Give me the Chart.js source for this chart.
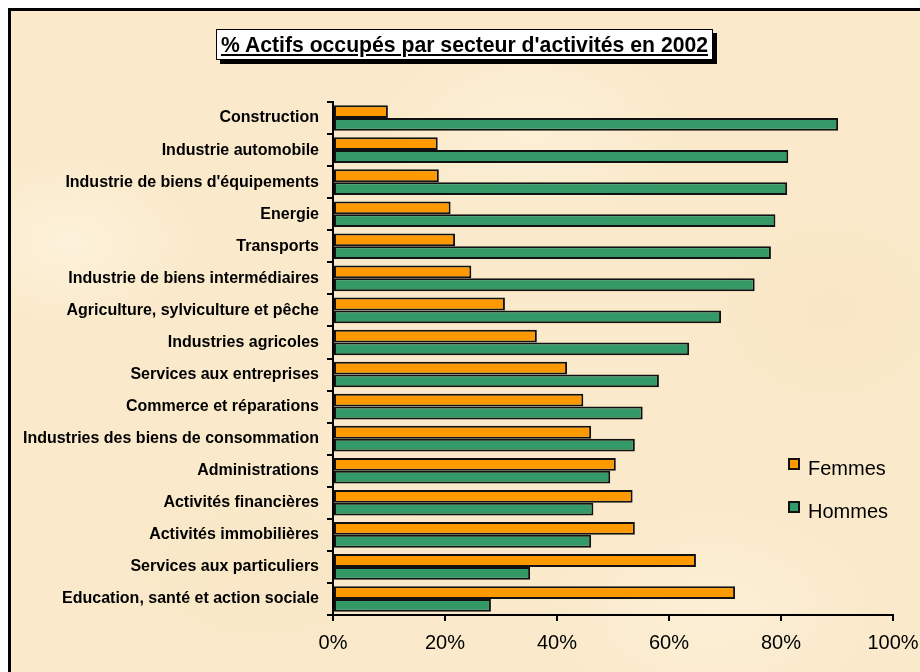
<!DOCTYPE html>
<html>
<head>
<meta charset="utf-8">
<script src="https://cdn.jsdelivr.net/npm/chart.js@4"></script>
<style>
  html, body { margin:0; padding:0; background:#fff; }
  #wrap { position:relative; width:920px; height:672px; overflow:hidden; background:#fff; }
  #paper {
    position:absolute; left:8px; top:8px; width:940px; height:700px;
    border-left:3px solid #000; border-top:3px solid #000;
    background:
      radial-gradient(ellipse 180px 120px at 60px 230px, rgba(255,246,228,0.6), rgba(255,246,228,0) 70%),
      radial-gradient(ellipse 220px 140px at 520px 120px, rgba(255,245,226,0.5), rgba(255,245,226,0) 70%),
      radial-gradient(ellipse 200px 160px at 820px 300px, rgba(246,224,186,0.45), rgba(246,224,186,0) 70%),
      radial-gradient(ellipse 260px 160px at 250px 560px, rgba(247,227,192,0.45), rgba(247,227,192,0) 70%),
      radial-gradient(ellipse 240px 150px at 700px 600px, rgba(255,244,224,0.5), rgba(255,244,224,0) 70%),
      #FAEACB;
  }
  #title {
    position:absolute; left:216px; top:29px; width:497px; height:31px; box-sizing:border-box;
    background:#fff; border:1px solid #000; box-shadow:4px 4px 0 #000;
    font:bold 21.2px "Liberation Sans", Arial, sans-serif; text-decoration:underline;
    text-align:center; line-height:29px; white-space:nowrap; color:#000;
  }
  canvas#c { position:absolute; left:0; top:0; }
  .lg { position:absolute; font:20px "Liberation Sans", Arial, sans-serif; line-height:20px; color:#000; white-space:nowrap; }
  .sq { position:absolute; width:12px; height:12px; box-sizing:border-box; border:2px solid #111; }
</style>
</head>
<body>
<div id="wrap">
  <div id="paper"></div>
  <canvas id="c" width="920" height="672"></canvas>
  <div id="title">% Actifs occupés par secteur d'activités en 2002</div>
  <div id="legend"></div>
</div>
<script>
const categories = [
  "Construction",
  "Industrie automobile",
  "Industrie de biens d'équipements",
  "Energie",
  "Transports",
  "Industrie de biens intermédiaires",
  "Agriculture, sylviculture et pêche",
  "Industries agricoles",
  "Services aux entreprises",
  "Commerce et réparations",
  "Industries des biens de consommation",
  "Administrations",
  "Activités financières",
  "Activités immobilières",
  "Services aux particuliers",
  "Education, santé et action sociale"
];
const femmes = [9.8, 18.7, 18.9, 21.0, 21.8, 24.7, 30.7, 36.4, 41.8, 44.7, 46.1, 50.5, 53.5, 53.9, 64.8, 71.8];
const hommes = [90.2, 81.3, 81.1, 79.0, 78.2, 75.3, 69.3, 63.6, 58.2, 55.3, 53.9, 49.5, 46.5, 46.1, 35.2, 28.2];
const xTickValues = [0, 20, 40, 60, 80, 100];
const xTickLabels = ["0%", "20%", "40%", "60%", "80%", "100%"];
const seriesNames = ["Femmes", "Hommes"];

const FONT = "'Liberation Sans', Arial, sans-serif";

const chart = new Chart(document.getElementById('c'), {
  type: 'bar',
  data: {
    labels: categories,
    datasets: [
      { label: seriesNames[0], data: femmes, backgroundColor: '#FF9900', borderColor: '#111', borderWidth: 2, borderSkipped: false },
      { label: seriesNames[1], data: hommes, backgroundColor: '#339966', borderColor: '#111', borderWidth: 2, borderSkipped: false }
    ]
  },
  options: {
    indexAxis: 'y',
    responsive: false,
    animation: false,
    categoryPercentage: 0.8,
    barPercentage: 1.0,
    layout: { padding: { top: 102, right: 27, bottom: 0, left: 0 } },
    plugins: { legend: { display: false }, title: { display: false }, tooltip: { enabled: false } },
    scales: {
      x: {
        min: 0, max: 100,
        afterBuildTicks: (s) => { s.ticks = xTickValues.map(v => ({ value: v })); },
        afterFit: (s) => { s.height = 57; s.paddingLeft = 0; s.paddingRight = 0; },
        ticks: {
          color: '#000', padding: 10, maxRotation: 0, autoSkip: false,
          font: { family: FONT, size: 20 },
          callback: (v) => xTickLabels[xTickValues.indexOf(v)]
        },
        grid: { drawOnChartArea: false, drawTicks: true, tickLength: 6, color: '#000', lineWidth: 2 },
        border: { display: true, color: '#000', width: 2 }
      },
      y: {
        afterFit: (s) => { s.width = 333; s.paddingTop = 0; s.paddingBottom = 0; },
        ticks: {
          color: '#000', padding: 8, autoSkip: false,
          font: { family: FONT, size: 16, weight: 'bold' }
        },
        grid: { drawOnChartArea: false, drawTicks: true, tickLength: 6, color: '#000', lineWidth: 2, offset: true },
        border: { display: true, color: '#000', width: 2 }
      }
    }
  }
});

// HTML legend built from the chart's datasets
const legend = document.getElementById('legend');
const legendTops = [458, 501];
chart.data.datasets.forEach((ds, i) => {
  const sq = document.createElement('div');
  sq.className = 'sq';
  sq.style.left = '788px';
  sq.style.top = legendTops[i] + 'px';
  sq.style.background = ds.backgroundColor;
  legend.appendChild(sq);
  const t = document.createElement('div');
  t.className = 'lg';
  t.style.left = '808px';
  t.style.top = legendTops[i] + 'px';
  t.textContent = ds.label;
  legend.appendChild(t);
});
</script>
</body>
</html>
